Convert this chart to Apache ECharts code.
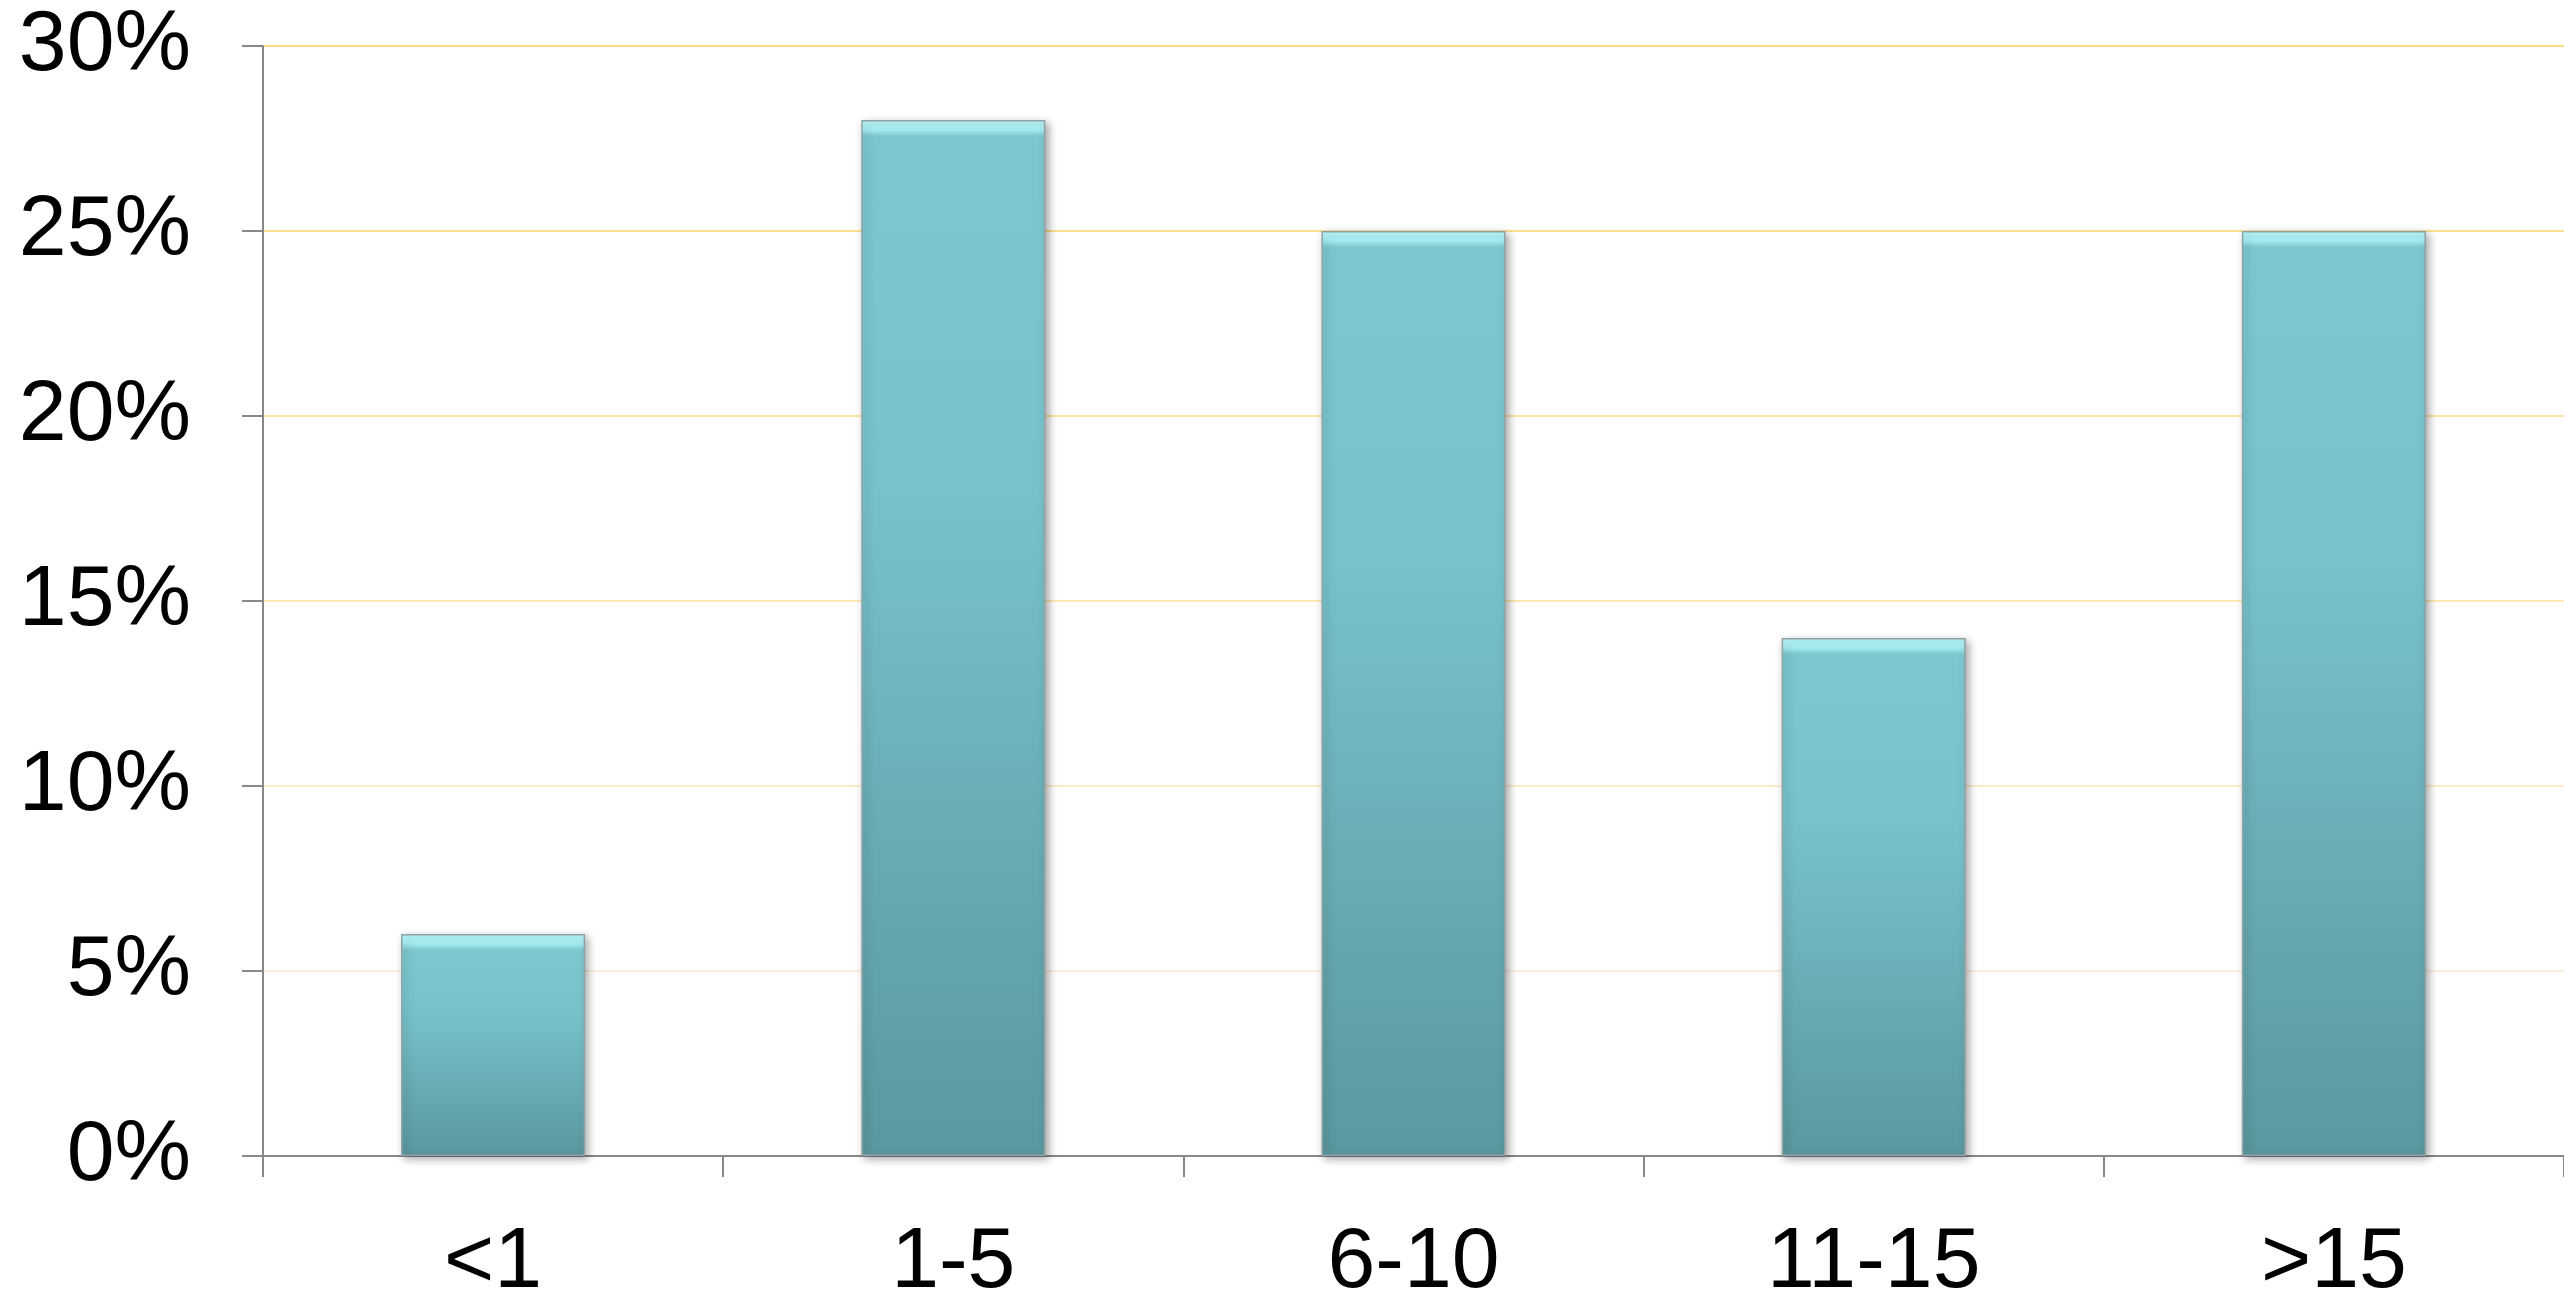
<!DOCTYPE html>
<html>
<head>
<meta charset="utf-8">
<script src="https://cdn.jsdelivr.net/npm/echarts@6/dist/echarts.min.js"></script>
<style>
html,body{margin:0;padding:0;background:#fff;}
#chart{width:2564px;height:1296px;}
</style>
</head>
<body>
<div id="chart"></div>
<script>
const categories = ['<1', '1-5', '6-10', '11-15', '>15'];
const shares = [6, 28, 25, 14, 25];
const yTicks = [0, 5, 10, 15, 20, 25, 30];

const chart = echarts.init(document.getElementById('chart'));

function barStyle(v) {
  const h = v / 30 * 1110;
  const f = Math.min(0.5, 16 / h);
  return {
    color: {
      type: 'linear', x: 0, y: 0, x2: 0, y2: 1,
      colorStops: [
        { offset: 0, color: '#B8F8FC' },
        { offset: f * 0.6, color: '#A9F0F4' },
        { offset: f, color: '#7CC8CF' },
        { offset: 0.35, color: '#77C3CB' },
        { offset: 1, color: '#5B979E' }
      ]
    },
    borderColor: '#8FA3A6',
    borderWidth: 1.5,
    shadowBlur: 8,
    shadowColor: 'rgba(0,0,0,0.35)',
    shadowOffsetX: 3,
    shadowOffsetY: 3
  };
}

chart.setOption({
  animation: false,
  backgroundColor: '#ffffff',
  grid: { left: 263, right: 0, top: 46, bottom: 140, containLabel: false, outerBoundsMode: 'none' },
  xAxis: {
    type: 'category',
    data: categories,
    axisLine: { show: true, lineStyle: { color: '#888888', width: 2 } },
    axisTick: { show: true, length: 21, lineStyle: { color: '#888888', width: 2 } },
    axisLabel: { color: '#000', fontSize: 86, fontFamily: 'Liberation Sans, Arial, sans-serif', margin: 64 },
    splitLine: { show: false }
  },
  yAxis: {
    type: 'value',
    min: yTicks[0],
    max: yTicks[yTicks.length - 1],
    interval: 5,
    axisLine: { show: true, lineStyle: { color: '#888888', width: 2 } },
    axisTick: { show: true, length: 21, lineStyle: { color: '#888888', width: 2 } },
    axisLabel: { color: '#000', fontSize: 86, fontFamily: 'Liberation Sans, Arial, sans-serif', margin: 72, formatter: '{value}%', padding: [26, 0, 0, 0] },
    splitLine: {
      show: true,
      lineStyle: {
        width: 2,
        color: ['#ffffff', '#FDEEDC', '#FDEBC8', '#FDE8B6', '#FDE4A4', '#FDDF90', '#FDDC88']
      }
    }
  },
  series: [{
    type: 'bar',
    barWidth: '40%',
    data: shares.map(v => ({ value: v, itemStyle: barStyle(v) }))
  }]
});
</script>
</body>
</html>
